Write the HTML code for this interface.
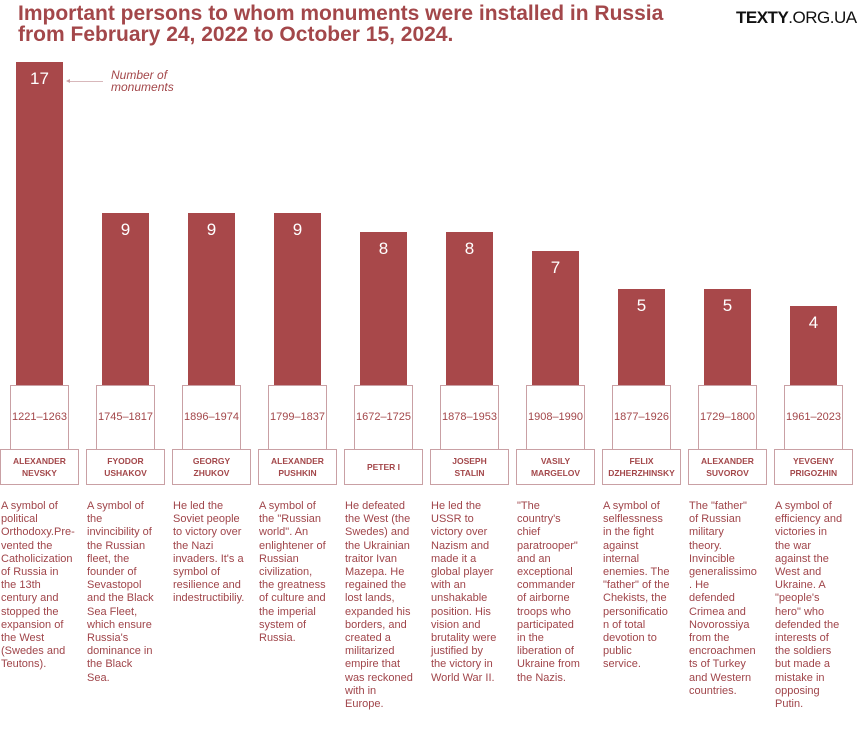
<!DOCTYPE html>
<html><head><meta charset="utf-8"><style>
body{margin:0;width:860px;height:749px;background:#fff;position:relative;overflow:hidden;font-family:"Liberation Sans",Arial,sans-serif;}
.t{position:absolute;left:18px;top:3px;font-size:21px;font-weight:bold;color:#a3474a;line-height:21px;letter-spacing:0px}
.logo{position:absolute;left:736px;top:8px;font-size:17px;color:#111;letter-spacing:-0.5px}
.bar{position:absolute;width:47px;background:#a8484a;color:#fff;text-align:center;font-size:17px;padding-top:7px;box-sizing:border-box}
.date{position:absolute;width:59px;height:65px;top:385px;border:1px solid #c9a0a4;box-sizing:border-box;color:#a3474a;font-size:11px;text-align:center;line-height:62px;background:#fff}
.name{position:absolute;width:79px;height:36px;top:449px;border:1px solid #c9a0a4;box-sizing:border-box;color:#a3474a;font-size:8.5px;font-weight:bold;text-align:center;display:flex;align-items:center;justify-content:center;line-height:12px;background:#fff}
.d{position:absolute;top:500px;width:86px;font-size:11px;line-height:13.2px;color:#a0454a;white-space:nowrap}
</style></head><body>
<div class="t">Important persons to whom monuments were installed in Russia<br>from February 24, 2022 to October 15, 2024.</div>
<div class="logo"><b>TEXTY</b>.ORG.UA</div>
<div style="position:absolute;left:68px;top:81px;width:35px;height:1px;background:#d8b8bb"></div>
<div style="position:absolute;left:66px;top:79px;width:0;height:0;border-top:2px solid transparent;border-bottom:2px solid transparent;border-right:4px solid #c9a0a4"></div>
<div style="position:absolute;left:111px;top:69px;font-size:12px;font-style:italic;color:#a3474a;line-height:12px">Number of<br>monuments</div>

<div class="bar" style="left:16px;top:62px;height:323px">17</div>
<div class="bar" style="left:102px;top:213px;height:172px">9</div>
<div class="bar" style="left:188px;top:213px;height:172px">9</div>
<div class="bar" style="left:274px;top:213px;height:172px">9</div>
<div class="bar" style="left:360px;top:232px;height:153px">8</div>
<div class="bar" style="left:446px;top:232px;height:153px">8</div>
<div class="bar" style="left:532px;top:251px;height:134px">7</div>
<div class="bar" style="left:618px;top:289px;height:96px">5</div>
<div class="bar" style="left:704px;top:289px;height:96px">5</div>
<div class="bar" style="left:790px;top:306px;height:79px">4</div>

<div class="date" style="left:10px">1221–1263</div>
<div class="date" style="left:96px">1745–1817</div>
<div class="date" style="left:182px">1896–1974</div>
<div class="date" style="left:268px">1799–1837</div>
<div class="date" style="left:354px">1672–1725</div>
<div class="date" style="left:440px">1878–1953</div>
<div class="date" style="left:526px">1908–1990</div>
<div class="date" style="left:612px">1877–1926</div>
<div class="date" style="left:698px">1729–1800</div>
<div class="date" style="left:784px">1961–2023</div>

<div class="name" style="left:0px">ALEXANDER<br>NEVSKY</div>
<div class="name" style="left:86px">FYODOR<br>USHAKOV</div>
<div class="name" style="left:172px">GEORGY<br>ZHUKOV</div>
<div class="name" style="left:258px">ALEXANDER<br>PUSHKIN</div>
<div class="name" style="left:344px">PETER I</div>
<div class="name" style="left:430px">JOSEPH<br>STALIN</div>
<div class="name" style="left:516px">VASILY<br>MARGELOV</div>
<div class="name" style="left:602px">FELIX<br>DZHERZHINSKY</div>
<div class="name" style="left:688px">ALEXANDER<br>SUVOROV</div>
<div class="name" style="left:774px">YEVGENY<br>PRIGOZHIN</div>

<div class="d" style="left:1px">A symbol of<br>political<br>Orthodoxy.Pre-<br>vented the<br>Catholicization<br>of Russia in<br>the 13th<br>century and<br>stopped the<br>expansion of<br>the West<br>(Swedes and<br>Teutons).</div>
<div class="d" style="left:87px">A symbol of<br>the<br>invincibility of<br>the Russian<br>fleet, the<br>founder of<br>Sevastopol<br>and the Black<br>Sea Fleet,<br>which ensure<br>Russia's<br>dominance in<br>the Black<br>Sea.</div>
<div class="d" style="left:173px">He led the<br>Soviet people<br>to victory over<br>the Nazi<br>invaders. It's a<br>symbol of<br>resilience and<br>indestructibiliy.</div>
<div class="d" style="left:259px">A symbol of<br>the "Russian<br>world". An<br>enlightener of<br>Russian<br>civilization,<br>the greatness<br>of culture and<br>the imperial<br>system of<br>Russia.</div>
<div class="d" style="left:345px">He defeated<br>the West (the<br>Swedes) and<br>the Ukrainian<br>traitor Ivan<br>Mazepa. He<br>regained the<br>lost lands,<br>expanded his<br>borders, and<br>created a<br>militarized<br>empire that<br>was reckoned<br>with in<br>Europe.</div>
<div class="d" style="left:431px">He led the<br>USSR to<br>victory over<br>Nazism and<br>made it a<br>global player<br>with an<br>unshakable<br>position. His<br>vision and<br>brutality were<br>justified by<br>the victory in<br>World War II.</div>
<div class="d" style="left:517px">"The<br>country's<br>chief<br>paratrooper"<br>and an<br>exceptional<br>commander<br>of airborne<br>troops who<br>participated<br>in the<br>liberation of<br>Ukraine from<br>the Nazis.</div>
<div class="d" style="left:603px">A symbol of<br>selflessness<br>in the fight<br>against<br>internal<br>enemies. The<br>"father" of the<br>Chekists, the<br>personificatio<br>n of total<br>devotion to<br>public<br>service.</div>
<div class="d" style="left:689px">The "father"<br>of Russian<br>military<br>theory.<br>Invincible<br>generalissimo<br>. He<br>defended<br>Crimea and<br>Novorossiya<br>from the<br>encroachmen<br>ts of Turkey<br>and Western<br>countries.</div>
<div class="d" style="left:775px">A symbol of<br>efficiency and<br>victories in<br>the war<br>against the<br>West and<br>Ukraine. A<br>"people's<br>hero" who<br>defended the<br>interests of<br>the soldiers<br>but made a<br>mistake in<br>opposing<br>Putin.</div>
</body></html>
